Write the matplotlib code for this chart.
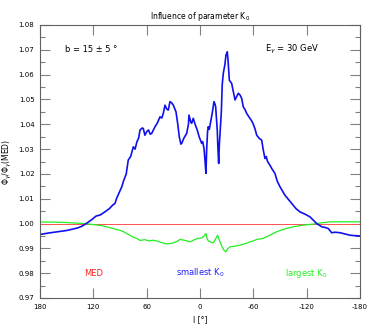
import matplotlib
matplotlib.use("Agg")
import matplotlib.pyplot as plt
from matplotlib.ticker import MultipleLocator

# ---- data ----
l_blue = [180, 170, 160, 150, 145, 138, 133, 128, 122, 117, 112, 107, 102, 98, 95.6, 94, 88, 86, 83,
          80.7, 78, 75, 73, 71, 69, 67.5, 65, 63.8, 62, 60, 58, 56, 54.4, 52, 50.6, 48, 45, 43, 41.3,
          39.4, 37.5, 35.7, 33.8, 32, 30, 27, 25, 23.3, 21.5, 20.6, 18, 15, 13, 12.4, 10.5, 9.4, 7.6,
          6, 3.1, 1, -1.9, -3, -4.5, -5.5, -6.7, -7.5, -8.5, -9.3, -10.5, -12, -14, -15.7, -17, -17.6,
          -19.4, -20.2, -21, -21.8, -22.5, -24, -25, -26.2, -28, -29.2, -30.7, -31.5, -33, -34.5,
          -35.6, -37, -39.4, -41, -43.1, -45, -46.9, -48.7, -50.5, -52.5, -55, -58.1, -60, -62,
          -63.8, -66.7, -69.4, -71, -73.1, -74.5, -76, -78.7, -81, -84.3, -87, -90, -93, -95.6,
          -100, -104.9, -108, -112.5, -118, -123.7, -128, -131.3, -134, -136.9, -140, -144.3,
          -148.1, -152, -157.5, -163, -168.7, -175, -180]
v_blue = [0.9956, 0.9962, 0.9967, 0.9972, 0.9976, 0.9982, 0.9989, 1.0000, 1.0015, 1.0030, 1.0035,
          1.0047, 1.0060, 1.0075, 1.0081, 1.0100, 1.0148, 1.0172, 1.0200, 1.0256, 1.0270, 1.0309,
          1.0300, 1.0329, 1.0345, 1.0377, 1.0385, 1.0383, 1.0356, 1.0370, 1.0377, 1.0360, 1.0363,
          1.0380, 1.0390, 1.0405, 1.0430, 1.0425, 1.0444, 1.0477, 1.0462, 1.0457, 1.0491, 1.0487,
          1.0477, 1.0450, 1.0400, 1.0349, 1.0320, 1.0323, 1.0345, 1.0363, 1.0400, 1.0437, 1.0410,
          1.0404, 1.0424, 1.0405, 1.0377, 1.0350, 1.0323, 1.0330, 1.0303, 1.0260, 1.0202, 1.0300,
          1.0370, 1.0390, 1.0380, 1.0410, 1.0450, 1.0491, 1.0480, 1.0471, 1.0377, 1.0300, 1.0242,
          1.0320, 1.0363, 1.0450, 1.0560, 1.0605, 1.0640, 1.0679, 1.0692, 1.0660, 1.0578, 1.0570,
          1.0565, 1.0540, 1.0498, 1.0510, 1.0525, 1.0518, 1.0504, 1.0470, 1.0460, 1.0444, 1.0430,
          1.0414, 1.0400, 1.0380, 1.0356, 1.0343, 1.0336, 1.0300, 1.0262, 1.0270, 1.0250, 1.0235,
          1.0220, 1.0202, 1.0170, 1.0148, 1.0130, 1.0114, 1.0095, 1.0074, 1.0060, 1.0047, 1.0038,
          1.0027, 1.0012, 1.0000, 0.9994, 0.9987, 0.9985, 0.9980, 0.9963, 0.9965, 0.9963, 0.9958,
          0.9953, 0.9951, 0.9950]

l_green = [180, 165, 150, 140, 130, 120, 110, 105, 98, 90, 86, 80, 75, 70, 67.5, 62, 57, 52.5, 47,
           42, 37.5, 33, 30, 26, 22.5, 18, 13, 11, 8, 5.6, 2, -1.9, -4, -6.7, -8, -9.3, -12, -15,
           -17, -19.9, -21, -22.5, -25, -27, -29.2, -31, -33.7, -38, -45, -50, -56.2, -60, -63.8,
           -71.2, -78, -86.3, -95, -105, -115, -127.5, -135, -146.2, -160, -180]
v_green = [1.0006, 1.0006, 1.0004, 1.0002, 1.0000, 0.9996, 0.9991, 0.9987, 0.9980, 0.9973, 0.9967,
           0.9955, 0.9945, 0.9938, 0.9932, 0.9935, 0.9930, 0.9933, 0.9928, 0.9922, 0.9918, 0.9920,
           0.9922, 0.9928, 0.9936, 0.9933, 0.9928, 0.9926, 0.9932, 0.9936, 0.9940, 0.9942, 0.9948,
           0.9960, 0.9940, 0.9930, 0.9926, 0.9922, 0.9935, 0.9953, 0.9940, 0.9926, 0.9905, 0.9892,
           0.9886, 0.9898, 0.9906, 0.9908, 0.9913, 0.9918, 0.9926, 0.9930, 0.9936, 0.9940, 0.9952,
           0.9967, 0.9978, 0.9987, 0.9993, 0.9998, 1.0002, 1.0007, 1.0007, 1.0007]

l_red = [180, -180]
v_red = [1.0, 1.0]

x_ticks = [180, 120, 60, 0, -60, -120, -180]
x_ticklabels = ["180", "120", "60", "0", "-60", "-120", "-180"]

# ---- figure ----
plt.rcParams['font.family'] = ['DejaVu Sans']
fig = plt.figure(figsize=(3.74, 3.27), dpi=100)
ax = fig.add_axes([40/374, 1-298/327, 320/374, 273/327])

ax.plot(l_red, v_red, color='#ff5050', lw=0.7)
ax.plot(l_green, v_green, color='#22ee22', lw=0.9)
ax.plot(l_blue, v_blue, color='#1010ee', lw=1.2)

ax.set_xlim(180, -180)
ax.set_ylim(0.97, 1.08)
ax.set_xticks(x_ticks)
ax.set_xticklabels(x_ticklabels)
ax.yaxis.set_major_locator(MultipleLocator(0.01))
ax.yaxis.set_minor_locator(MultipleLocator(0.005))
ax.yaxis.set_major_formatter(matplotlib.ticker.FormatStrFormatter('%.2f'))

ax.tick_params(which='both', direction='in', top=True, right=True, color='#808080',
               labelsize=5, pad=4, width=0.8)
ax.tick_params(which='major', length=7.5)
ax.tick_params(which='minor', length=3.8)
for s in ax.spines.values():
    s.set_color('#606060')
    s.set_linewidth(0.8)

ax.set_title(r"Influence of parameter K$_0$", fontsize=5.5, pad=4.5)
ax.set_xlabel(r"l [°]", fontsize=5.5, labelpad=4)
ax.set_ylabel(r"$\Phi_\gamma$/$\Phi_\gamma$(MED)", fontsize=5.5)
ax.yaxis.set_label_coords(-0.08, 0.5)

ax.text(152, 1.0703, "b = 15 ± 5 °", fontsize=6, va='center', ha='left')
ax.text(-73, 1.0703, r"E$_\gamma$ = 30 GeV", fontsize=6, va='center', ha='left')
ax.text(120, 0.980, "MED", fontsize=6, color='#ff2020', ha='center', va='center')
ax.text(0, 0.980, r"smallest K$_0$", fontsize=6, color='#2020ff', ha='center', va='center')
ax.text(-120, 0.980, r"largest K$_0$", fontsize=6, color='#22ee22', ha='center', va='center')

fig.savefig("out.png", dpi=100)
